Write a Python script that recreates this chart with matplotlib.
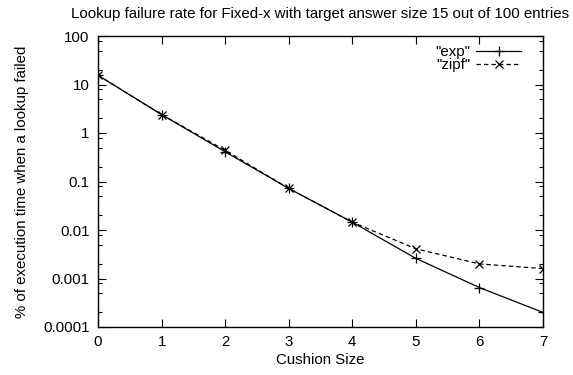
import matplotlib
matplotlib.use('Agg')
import matplotlib.pyplot as plt
from matplotlib.ticker import LogLocator, FixedLocator, NullFormatter

plt.rcParams['font.family'] = ['Liberation Sans', 'DejaVu Sans']
plt.rcParams['font.size'] = 10.8

cushion = [0, 1, 2, 3, 4, 5, 6, 7]
exp_vals = [15.5, 2.4, 0.41, 0.072, 0.0145, 0.0026, 0.00065, 0.0002]
zipf_vals = [15.5, 2.4, 0.44, 0.072, 0.0145, 0.0041, 0.002, 0.0016]
ytick_vals = [0.0001, 0.001, 0.01, 0.1, 1, 10, 100]
ytick_labels = ['0.0001', '0.001', '0.01', '0.1', '1', '10', '100']

fig = plt.figure(figsize=(5.73, 3.75), dpi=100)
ax = fig.add_axes([98 / 573, 1 - 327 / 375, 445 / 573, 291 / 375])

ax.plot(cushion, exp_vals, color='black', lw=0.9, marker='+', ms=7, mew=0.9,
        label='"exp"')
ax.plot(cushion, zipf_vals, color='black', lw=0.9, ls=(0, (3.5, 2.5)), marker='x',
        ms=5.5, mew=0.9, label='"zipf"')

ax.set_yscale('log')
ax.set_xlim(0, 7)
ax.set_ylim(0.0001, 100)
ax.set_xticks(cushion)
ax.yaxis.set_major_locator(FixedLocator(ytick_vals))
ax.set_yticklabels(ytick_labels)
ax.yaxis.set_minor_locator(LogLocator(base=10, subs=[2, 5, 8]))
ax.yaxis.set_minor_formatter(NullFormatter())

ax.tick_params(which='both', direction='in', top=True, right=True, width=0.8)
ax.tick_params(which='major', length=6, pad=6)
ax.tick_params(which='minor', length=3)
for s in ax.spines.values():
    s.set_linewidth(1.0)

ax.set_xlabel('Cushion Size', labelpad=3)
ax.set_ylabel('% of execution time when a lookup failed', labelpad=10)
ax.set_title('Lookup failure rate for Fixed-x with target answer size 15 out of 100 entries',
             fontsize=10.8, pad=13)

ax.legend(loc='upper right', bbox_to_anchor=(0.975, 1.005), frameon=False,
          markerfirst=False, handlelength=3.0, handletextpad=0.4,
          labelspacing=-0.05, borderaxespad=0.5, borderpad=0.2)

fig.savefig('out.png', dpi=100)
